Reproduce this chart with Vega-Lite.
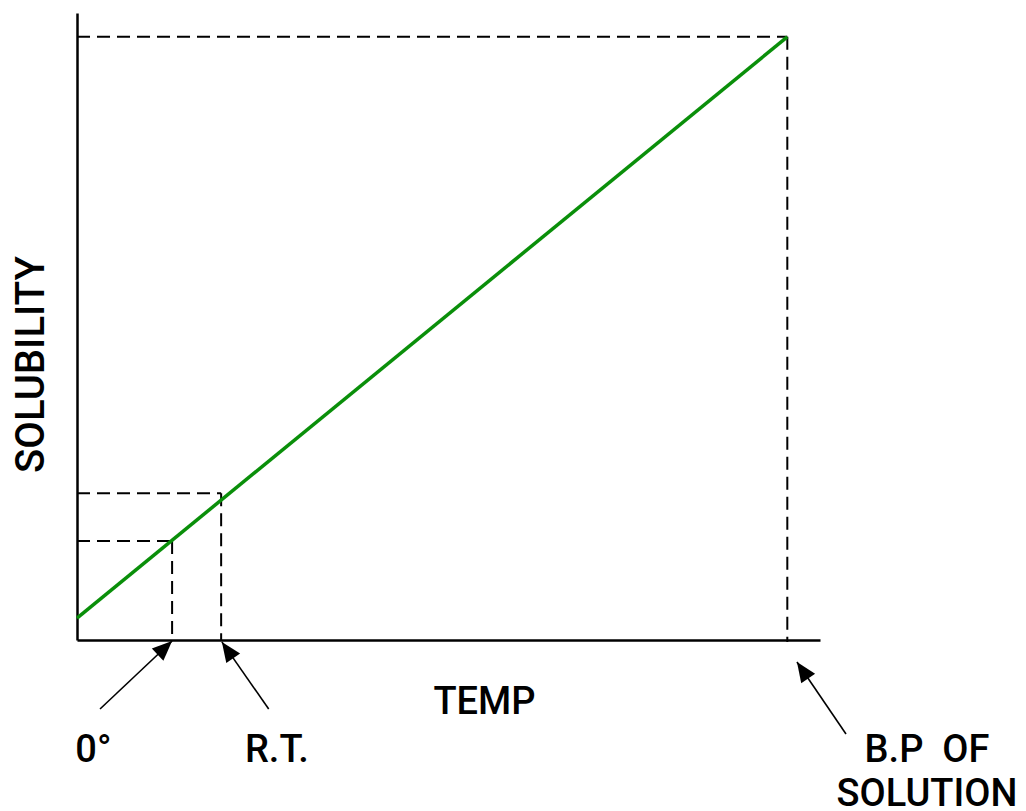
{
  "$schema": "https://vega.github.io/schema/vega-lite/v6.json",
  "width": 743,
  "height": 627,
  "autosize": {"type": "none"},
  "padding": {"left": 77, "top": 13, "right": 206, "bottom": 171},
  "background": "white",
  "config": {
    "view": {"stroke": null},
    "font": "Roboto",
    "axis": {
      "domainColor": "black",
      "domainWidth": 2.5,
      "labels": false,
      "ticks": false,
      "grid": false,
      "titleFont": "Roboto",
      "titleFontWeight": 500,
      "titleColor": "black"
    }
  },
  "datasets": {
    "curve": [
      {"x": 0, "y": 3.5},
      {"x": 95.6, "y": 96.2}
    ],
    "dashes": [
      {"x": 0, "y": 96.2, "x2": 95.6, "y2": 96.2},
      {"x": 95.6, "y": 96.2, "x2": 95.6, "y2": -0.3},
      {"x": 0, "y": 15.8, "x2": 12.8, "y2": 15.8},
      {"x": 12.8, "y": 15.8, "x2": 12.8, "y2": 0},
      {"x": 0, "y": 23.4, "x2": 19.4, "y2": 23.4},
      {"x": 19.4, "y": 23.4, "x2": 19.4, "y2": 0}
    ],
    "shafts": [
      {"x": 3.1, "y": -11.0, "x2": 12.8, "y2": -0.16},
      {"x": 25.8, "y": -11.0, "x2": 19.5, "y2": -0.3},
      {"x": 103.5, "y": -15.0, "x2": 96.9, "y2": -3.5}
    ],
    "heads": [
      {"x": 12.8, "y": -0.16, "angle": 46.6},
      {"x": 19.5, "y": -0.3, "angle": 325.4},
      {"x": 96.9, "y": -3.5, "angle": 325.8}
    ],
    "labels": [
      {"x": 2.2, "y": -19.5, "label": "0°"},
      {"x": 26.9, "y": -19.5, "label": "R.T."},
      {"x": 114.4, "y": -19.5, "label": "B.P \u00a0OF"},
      {"x": 114.4, "y": -26.5, "label": "SOLUTION"}
    ]
  },
  "encoding": {
    "x": {
      "field": "x",
      "type": "quantitative",
      "scale": {"domain": [0, 100], "nice": false, "zero": false},
      "axis": {
        "title": "TEMP",
        "titleFontSize": 38,
        "titleX": 407,
        "titleY": 73,
        "titleBaseline": "alphabetic",
        "titleAlign": "center"
      }
    },
    "y": {
      "field": "y",
      "type": "quantitative",
      "scale": {"domain": [0, 100], "nice": false, "zero": false},
      "axis": {
        "title": "SOLUBILITY",
        "titleFontSize": 40,
        "titleX": -34,
        "titleY": 351,
        "titleAngle": 270,
        "titleBaseline": "alphabetic",
        "titleAlign": "center"
      }
    }
  },
  "layer": [
    {
      "data": {"name": "dashes"},
      "mark": {"type": "rule", "color": "black", "strokeWidth": 2, "strokeDash": [13, 7]},
      "encoding": {
        "x2": {"field": "x2"},
        "y2": {"field": "y2"}
      }
    },
    {
      "data": {"name": "curve"},
      "mark": {"type": "line", "color": "#0a8f0a", "strokeWidth": 3.5}
    },
    {
      "data": {"name": "shafts"},
      "mark": {"type": "rule", "color": "black", "strokeWidth": 1.6},
      "encoding": {
        "x2": {"field": "x2"},
        "y2": {"field": "y2"}
      }
    },
    {
      "data": {"name": "heads"},
      "mark": {
        "type": "point",
        "shape": "M0,0L0.8,1.9L-0.8,1.9Z",
        "filled": true,
        "color": "black",
        "opacity": 1,
        "size": 441
      },
      "encoding": {
        "angle": {"field": "angle", "type": "quantitative", "scale": null}
      }
    },
    {
      "data": {"name": "labels"},
      "mark": {
        "type": "text",
        "font": "Roboto",
        "fontSize": 38,
        "fontWeight": 500,
        "color": "black",
        "align": "center",
        "baseline": "alphabetic"
      },
      "encoding": {
        "text": {"field": "label"}
      }
    }
  ]
}
